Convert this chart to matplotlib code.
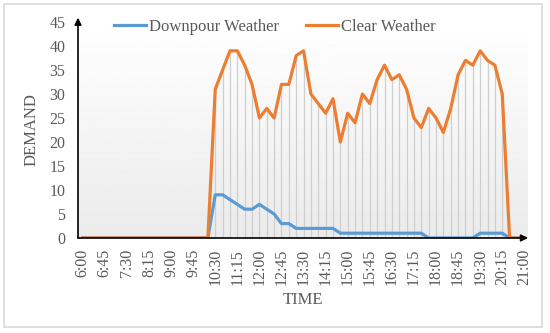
import numpy as np
import matplotlib.pyplot as plt
from matplotlib.patches import Rectangle

# 15-minute slots from 6:00 to 21:00
times = [f"{h}:{m:02d}" for h in range(6, 21) for m in (0, 15, 30, 45)] + ["21:00"]

# Clear weather demand, 10:30 .. 20:15 (zero elsewhere)
clear_day = [31, 35, 39, 39, 36, 32, 25, 27, 25, 32, 32, 38, 39, 30, 28, 26,
             29, 20, 26, 24, 30, 28, 33, 36, 33, 34, 31, 25, 23, 27, 25, 22,
             27, 34, 37, 36, 39, 37, 36, 30]
# Downpour weather demand, 10:30 .. 20:15
downpour_day = [9, 9, 8, 7, 6, 6, 7, 6, 5, 3, 3, 2, 2, 2, 2, 2,
                2, 1, 1, 1, 1, 1, 1, 1, 1, 1, 1, 1, 1, 0, 0, 0,
                0, 0, 0, 0, 1, 1, 1, 1]

lead = [0] * 18   # 6:00 .. 10:15
tail = [0] * 3    # 20:30 .. 21:00
clear = lead + clear_day + tail
downpour = lead + downpour_day + tail

plt.rcParams['font.family'] = ['Liberation Serif', 'DejaVu Serif']
txt = '#595959'

fig = plt.figure(figsize=(5.5, 3.33), dpi=100)
ax = fig.add_axes([78 / 550, 1 - 238 / 333, 450 / 550, 216 / 333])

x = np.arange(len(times))
ax.set_xlim(-0.65, 60.5)
ax.set_ylim(0, 45)

# gradient background of the plot area
grad = np.linspace(1.0, 0.92, 256).reshape(-1, 1)
ax.imshow(grad, cmap='gray', vmin=0, vmax=1, aspect='auto',
          extent=[-0.65, 60.5, 0, 45], zorder=0)

# drop lines
ax.vlines(x, 0, clear, color='#cfcfcf', lw=0.9, zorder=1)

ax.plot(x, downpour, color='#5B9BD5', lw=2.3, label='Downpour Weather',
        solid_joinstyle='round', zorder=3)
ax.plot(x, clear, color='#ED7D31', lw=2.3, label='Clear Weather',
        solid_joinstyle='round', zorder=3)

for s in ax.spines.values():
    s.set_visible(False)

# axes with arrow heads
ax.annotate('', xy=(0, 1.02), xytext=(0, 0), xycoords='axes fraction',
            arrowprops=dict(arrowstyle='-|>', color='black', lw=1.2,
                            mutation_scale=10, shrinkA=0, shrinkB=0), zorder=4)
ax.annotate('', xy=(1.0, 0), xytext=(0, 0), xycoords='axes fraction',
            arrowprops=dict(arrowstyle='-|>', color='black', lw=1.2,
                            mutation_scale=10, shrinkA=0, shrinkB=0), zorder=4)

ax.set_yticks(range(0, 46, 5))
ax.set_xticks(x[::3])
ax.set_xticklabels(times[::3], rotation=90)
ax.tick_params(length=0, labelsize=11.5, colors=txt, pad=8)
ax.tick_params(axis='y', pad=9)

ax.set_xlabel('TIME', fontsize=12, color=txt, labelpad=5)
ax.set_ylabel('DEMAND', fontsize=12, color=txt, labelpad=7)

fig.legend(loc='center', bbox_to_anchor=(0.5, 1 - 27 / 333), ncol=2,
           frameon=False, fontsize=12, handlelength=1.9,
           handletextpad=0.2, columnspacing=1.6, labelcolor=txt)

fig.patches.append(Rectangle((4 / 550, 6 / 333), 538 / 550, 323 / 333,
                             transform=fig.transFigure, fill=False,
                             edgecolor='#d9d9d9', lw=1.2))

fig.savefig('out.png', dpi=100)
